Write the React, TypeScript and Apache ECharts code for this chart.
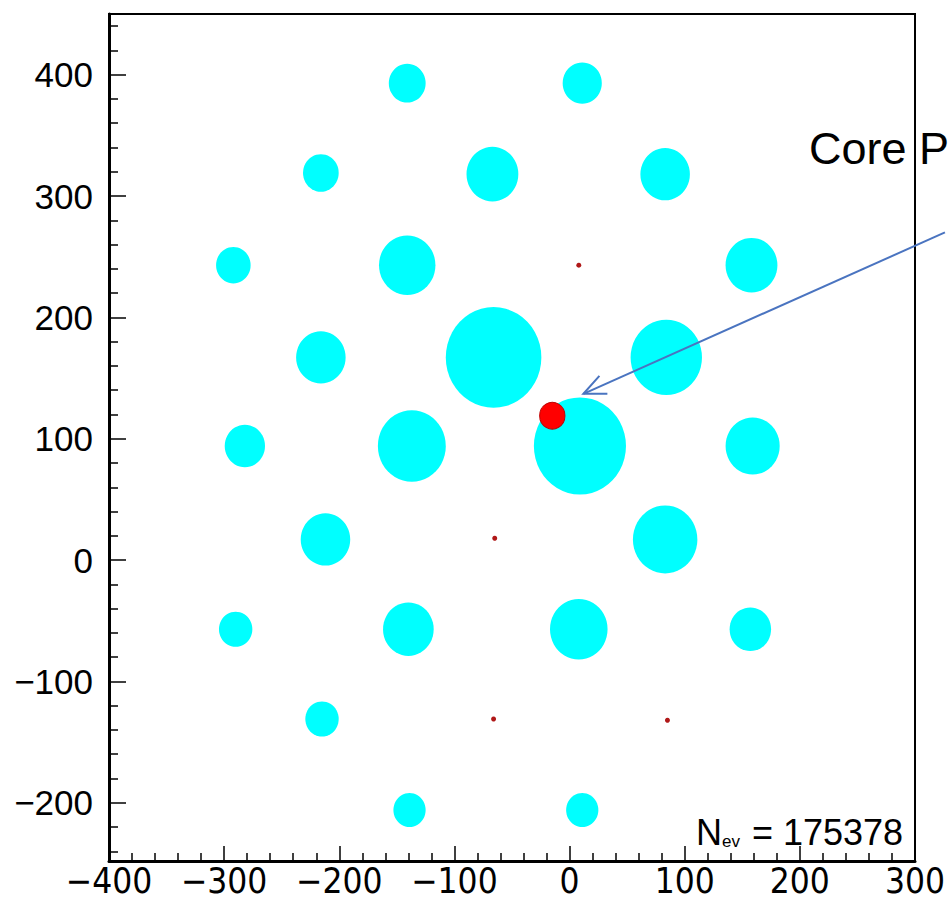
import React, { useEffect, useRef } from "react";
import * as echarts from "echarts";

// axis ranges and ticks
const X_MIN = -400;
const X_MAX = 300;
const Y_MIN = -248;
const Y_MAX = 450;
const xMajorTicks = [-400, -300, -200, -100, 0, 100, 200, 300];
const yMajorTicks = [-200, -100, 0, 100, 200, 300, 400];
const xMinorTicks = [
  -380, -360, -340, -320, -280, -260, -240, -220, -180, -160, -140, -120,
  -80, -60, -40, -20, 20, 40, 60, 80, 120, 140, 160, 180, 220, 240, 260, 280,
];
const yMinorTicks = [
  -240, -220, -180, -160, -140, -120, -80, -60, -40, -20, 20, 40, 60, 80,
  120, 140, 160, 180, 220, 240, 260, 280, 320, 340, 360, 380, 420, 440,
];

// cyan cells: x, y, diameter (in x-units)
const cellX = [
  -141, 11, -216, -67, 83, -292, -141, 158, -216, -66, 84, -282, -137, 9, 159,
  -212, 83, -290, -140, 8, 157, -215, -139, 11,
];
const cellY = [
  393, 393, 319, 318, 318, 243, 243, 243, 167, 167, 167, 94, 94, 94, 94, 17, 17,
  -57, -57, -57, -57, -131, -206, -206,
];
const cellD = [
  32, 34, 31, 45, 43, 30, 49, 45, 43, 83, 62, 35, 59, 80, 47, 43, 56, 29, 44,
  50, 36, 29, 28, 28,
];

// core position (big red dot)
const coreX = [-15];
const coreY = [119];
const coreD = [22];

// small red markers
const markX = [8, -65, -66, 85];
const markY = [243, 18, -131, -132];

const N_EV = 175378;

const W = 949;
const H = 901;
const GRID = { left: 109, right: 34, top: 14, bottom: 40 };

export default function App() {
  const ref = useRef<HTMLDivElement>(null);
  useEffect(() => {
    document.body.style.margin = "0";
    const chart = echarts.init(ref.current!, null, { renderer: "svg" });
    const gw = W - GRID.left - GRID.right;
    const gh = H - GRID.top - GRID.bottom;
    const sx = gw / (X_MAX - X_MIN);
    const sy = gh / (Y_MAX - Y_MIN);
    const fmt = (v: number) => (v < 0 ? "\u2212" + -v : String(v));

    const cells = cellX.map((x, i) => [x, cellY[i], cellD[i]]);
    const core = coreX.map((x, i) => [x, coreY[i], coreD[i]]);
    const marks = markX.map((x, i) => [x, markY[i]]);

    chart.setOption({
      animation: false,
      backgroundColor: "#fff",
      grid: {
        ...GRID,
        show: true,
        borderColor: "#000",
        borderWidth: 2,
        backgroundColor: "transparent",
      },
      xAxis: [
        {
          type: "value",
          min: X_MIN,
          max: X_MAX,
          position: "bottom",
          splitLine: { show: false },
          axisLine: { show: true, onZero: false, lineStyle: { color: "#000", width: 3 } },
          axisTick: {
            show: true,
            inside: true,
            length: 15,
            customValues: xMajorTicks,
            lineStyle: { color: "#000", width: 1.5 },
          },
          axisLabel: {
            customValues: xMajorTicks,
            formatter: fmt,
            color: "#000",
            fontSize: 35,
            lineHeight: 36,
            fontFamily: "'Liberation Sans Narrow', 'DejaVu Sans Condensed', sans-serif",
            margin: 2,
          },
        },
        {
          type: "value",
          min: X_MIN,
          max: X_MAX,
          position: "bottom",
          splitLine: { show: false },
          axisLine: { show: false, onZero: false },
          axisLabel: { show: false },
          axisTick: {
            show: true,
            inside: true,
            length: 8,
            customValues: xMinorTicks,
            lineStyle: { color: "#000", width: 1.5 },
          },
        },
      ],
      yAxis: [
        {
          type: "value",
          min: Y_MIN,
          max: Y_MAX,
          position: "left",
          splitLine: { show: false },
          axisLine: { show: true, onZero: false, lineStyle: { color: "#000", width: 3 } },
          axisTick: {
            show: true,
            inside: true,
            length: 17,
            customValues: yMajorTicks,
            lineStyle: { color: "#000", width: 1.5 },
          },
          axisLabel: {
            customValues: yMajorTicks,
            formatter: fmt,
            color: "#000",
            fontSize: 35,
            fontFamily: "'Liberation Sans', Arial, sans-serif",
            margin: 16,
          },
        },
        {
          type: "value",
          min: Y_MIN,
          max: Y_MAX,
          position: "left",
          splitLine: { show: false },
          axisLine: { show: false, onZero: false },
          axisLabel: { show: false },
          axisTick: {
            show: true,
            inside: true,
            length: 9,
            customValues: yMinorTicks,
            lineStyle: { color: "#000", width: 1.5 },
          },
        },
      ],
      series: [
        {
          type: "scatter",
          name: "cells",
          data: cells,
          symbol: "circle",
          symbolSize: (v: number[]) => [v[2] * sx, v[2] * sy],
          itemStyle: { color: "#00ffff", opacity: 1 },
          silent: true,
        },
        {
          type: "scatter",
          name: "core",
          data: core,
          symbol: "circle",
          symbolSize: (v: number[]) => [v[2] * sx, v[2] * sy],
          itemStyle: { color: "#ff0000", borderColor: "#c00000", borderWidth: 1, opacity: 1 },
          z: 5,
          silent: true,
        },
        {
          type: "scatter",
          name: "marks",
          data: marks,
          symbol: "circle",
          symbolSize: 5,
          itemStyle: { color: "#b01818", opacity: 1 },
          z: 5,
          silent: true,
        },
      ],
    });

    const p0 = chart.convertToPixel({ gridIndex: 0 }, [326, 270]) as number[];
    const p1 = chart.convertToPixel({ gridIndex: 0 }, [12, 137]) as number[];
    const ang = Math.atan2(p0[1] - p1[1], p0[0] - p1[0]);
    const hl = 24;
    const ha = 0.42;
    const h1 = [p1[0] + hl * Math.cos(ang + ha), p1[1] + hl * Math.sin(ang + ha)];
    const h2 = [p1[0] + hl * Math.cos(ang - ha), p1[1] + hl * Math.sin(ang - ha)];
    const arrowColor = "#4a74c0";

    chart.setOption({
      graphic: [
        {
          type: "line",
          shape: { x1: p0[0], y1: p0[1], x2: p1[0], y2: p1[1] },
          style: { stroke: arrowColor, lineWidth: 2 },
          z: 50,
        },
        {
          type: "polyline",
          shape: { points: [h1, p1, h2] },
          style: { stroke: arrowColor, lineWidth: 2, fill: null },
          z: 50,
        },
        {
          type: "text",
          x: 809,
          y: 148,
          style: {
            text: "Core P",
            fontSize: 45,
            fontFamily: "'Liberation Sans', Arial, sans-serif",
            fill: "#000",
            verticalAlign: "middle",
          },
          z: 50,
        },
        {
          type: "text",
          x: 696,
          y: 850,
          style: {
            text: "{a|N}{b|ev}{a| = " + N_EV + "}",
            verticalAlign: "bottom",
            rich: {
              a: {
                fontSize: 36,
                fontFamily: "'Liberation Sans', Arial, sans-serif",
                fill: "#000",
                verticalAlign: "bottom",
              },
              b: {
                fontSize: 17,
                fontFamily: "'Liberation Sans', Arial, sans-serif",
                fill: "#000",
                verticalAlign: "bottom",
                padding: [0, 2, 0, 0],
              },
            },
          },
          z: 50,
        },
      ],
    });

    return () => chart.dispose();
  }, []);
  return <div ref={ref} style={{ width: W, height: H }} />;
}
